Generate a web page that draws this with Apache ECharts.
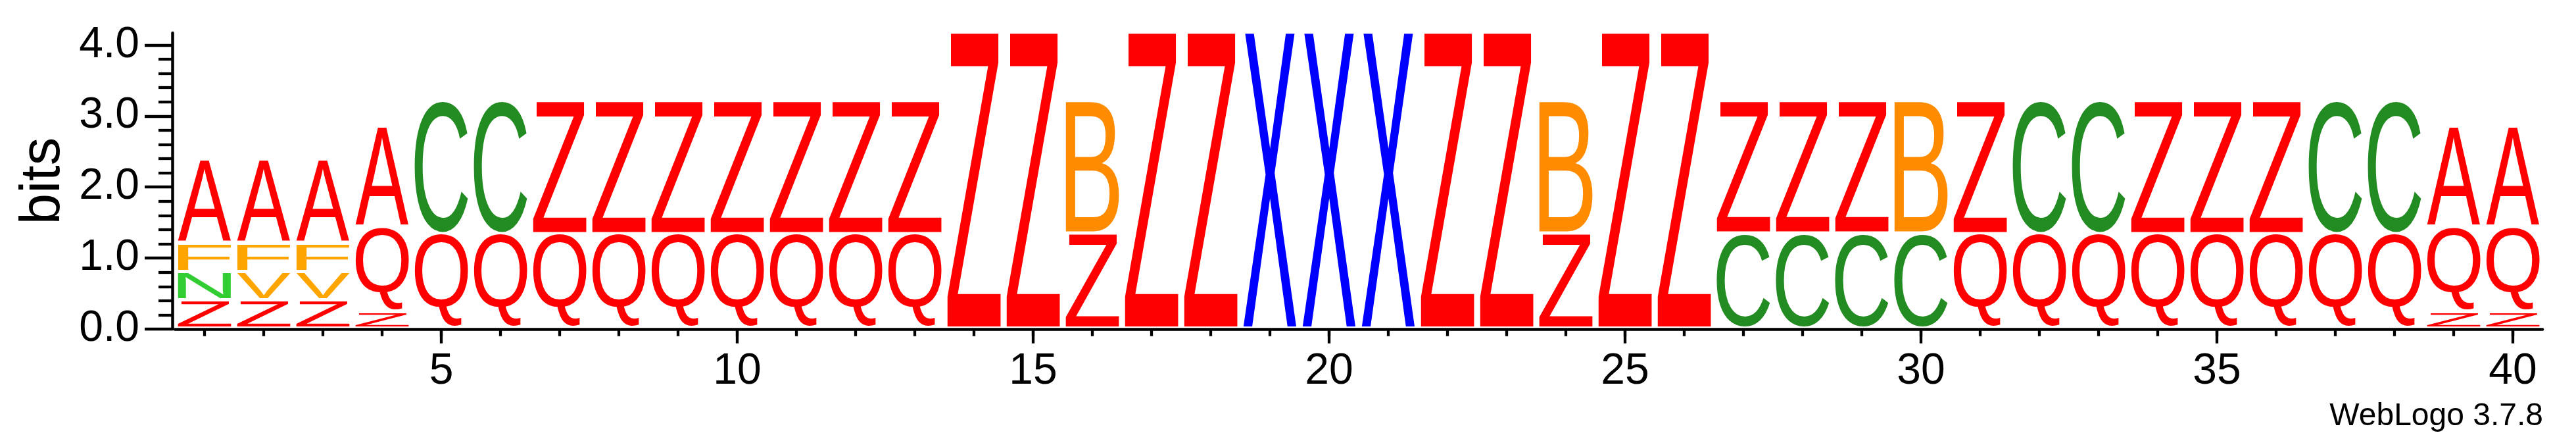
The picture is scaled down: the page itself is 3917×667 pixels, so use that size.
<!DOCTYPE html>
<html>
<head>
<meta charset="utf-8">
<script src="https://cdn.jsdelivr.net/npm/echarts@6/dist/echarts.min.js"></script>
<style>
html,body{margin:0;padding:0;background:#ffffff;}
#chart{width:3917px;height:667px;}
</style>
</head>
<body>
<div id="chart"></div>
<script>
// ---------------- data ----------------
const categories = ['1','2','3','4','5','6','7','8','9','10','11','12','13','14','15','16','17','18','19','20',
                    '21','22','23','24','25','26','27','28','29','30','31','32','33','34','35','36','37','38','39','40'];
// letters of each stack, bottom to top
const stackLetters = ['ZNFA','ZVFA','ZVFA','ZQA','QC','QC','QZ','QZ','QZ','QZ',
                      'QZ','QZ','QZ','Z','Z','ZB','Z','Z','X','X',
                      'X','Z','Z','ZB','Z','Z','CZ','CZ','CZ','CB',
                      'QZ','QC','QC','QZ','QZ','QZ','QC','QC','ZQA','ZQA'];
// bits of each letter, same order
const stackBits = [
  [0.40,0.40,0.40,1.18],[0.40,0.40,0.40,1.18],[0.40,0.40,0.40,1.18],[0.24,1.19,1.42],
  [1.33,1.88],[1.33,1.88],[1.33,1.88],[1.33,1.88],[1.33,1.88],[1.33,1.88],
  [1.33,1.88],[1.33,1.88],[1.33,1.88],[4.18],[4.18],[1.34,1.87],[4.18],[4.18],[4.18],[4.18],
  [4.18],[4.18],[4.18],[1.34,1.87],[4.18],[4.18],[1.34,1.87],[1.34,1.87],[1.34,1.87],[1.34,1.87],
  [1.33,1.88],[1.33,1.88],[1.33,1.88],[1.33,1.88],[1.33,1.88],[1.33,1.88],[1.33,1.88],[1.33,1.88],
  [0.24,1.19,1.42],[0.24,1.19,1.42]
];
const yMajorTicks = [0,1,2,3,4];
const yMinorTicks = [0.2,0.4,0.6,0.8,1.2,1.4,1.6,1.8,2.2,2.4,2.6,2.8,3.2,3.4,3.6,3.8];
const yMax = 4.17;
const letterColors = {A:'#FF0000',Q:'#FF0000',Z:'#FF0000',C:'#228B22',B:'#FF8C00',F:'#FFA500',V:'#FFA500',N:'#32CD32',X:'#0000FF'};

// ---------------- glyph metrics ----------------
const FONT_FAMILY = '"Liberation Sans", Arial, Helvetica, sans-serif';
const GLYPH_FONT = 'normal 200px ' + FONT_FAMILY;
const mctx = document.createElement('canvas').getContext('2d');
mctx.font = GLYPH_FONT;
mctx.textAlign = 'left';
mctx.textBaseline = 'middle';
const inkCache = {};
function ink(ch){
  if(!inkCache[ch]){
    const m = mctx.measureText(ch);
    inkCache[ch] = {l:-m.actualBoundingBoxLeft, r:m.actualBoundingBoxRight,
                    t:-m.actualBoundingBoxAscent, b:m.actualBoundingBoxDescent};
  }
  return inkCache[ch];
}

const LETTER_WIDTH_FRAC = 0.9;
const INSET = 2.5;
const BASE_LIFT = 1.5;

function renderItem(params, api){
  const i = params.dataIndex;
  const letters = stackLetters[i], bits = stackBits[i];
  const c = api.coord([i, 0]);
  const bw = api.size([1, 0])[0];
  const w = bw * LETTER_WIDTH_FRAC;
  const x0 = c[0] - w / 2;
  const children = [];
  let cum = 0;
  for(let k = 0; k < letters.length; k++){
    const ch = letters[k];
    const yb = api.coord([i, cum])[1] - BASE_LIFT;
    cum += bits[k];
    const yt = api.coord([i, cum])[1] - BASE_LIFT;
    const top = yt + INSET, bottom = yb - INSET;
    const h = bottom - top;
    if(h <= 0) continue;
    const g = ink(ch);
    const sx = w / (g.r - g.l), sy = h / (g.b - g.t);
    children.push({
      type:'text', x: x0 - g.l * sx, y: top - g.t * sy, scaleX: sx, scaleY: sy, silent: true,
      style:{text: ch, font: GLYPH_FONT, fill: letterColors[ch], align:'left', verticalAlign:'middle'}
    });
  }
  return {type:'group', children: children};
}

const chart = echarts.init(document.getElementById('chart'), null, {renderer:'canvas'});
const labelStyle = {color:'#000', fontSize:66, fontFamily:FONT_FAMILY};
const every5 = function(idx){ return (idx + 1) % 5 === 0; };

chart.setOption({
  backgroundColor:'#ffffff',
  animation:false,
  grid:{left:266, top:50, width:3600, height:450, containLabel:false},
  xAxis:[
    {type:'category', data:categories, boundaryGap:true, position:'bottom',
     axisLine:{show:true, onZero:false, lineStyle:{color:'#000', width:4.5}},
     axisTick:{show:true, alignWithLabel:true, interval:0, length:10.7, lineStyle:{color:'#000', width:4.3}},
     axisLabel:{show:false}, splitLine:{show:false}},
    {type:'category', data:categories, boundaryGap:true, position:'bottom',
     axisLine:{show:false, onZero:false},
     axisTick:{show:true, alignWithLabel:true, interval:every5, length:21.7, lineStyle:{color:'#000', width:4.3}},
     axisLabel:Object.assign({show:true, interval:every5, margin:32}, labelStyle), splitLine:{show:false}}
  ],
  yAxis:[
    {type:'value', min:0, max:yMax, position:'left', offset:4,
     axisLine:{show:true, onZero:false, lineStyle:{color:'#000', width:4.5}},
     axisTick:{show:true, length:42, customValues:yMajorTicks, lineStyle:{color:'#000', width:4.3}},
     axisLabel:Object.assign({show:true, customValues:yMajorTicks, margin:50,
       formatter:function(v){ return Number(v).toFixed(1); }}, labelStyle),
     splitLine:{show:false},
     name:'bits', nameLocation:'middle', nameGap:142,
     nameTextStyle:{color:'#000', fontSize:85, fontFamily:FONT_FAMILY}},
    {type:'value', min:0, max:yMax, position:'left', offset:4,
     axisLine:{show:false, onZero:false},
     axisTick:{show:true, length:21, customValues:yMinorTicks, lineStyle:{color:'#000', width:4.3}},
     axisLabel:{show:false}, splitLine:{show:false}}
  ],
  graphic:[
    {type:'text', right:50, top:609, silent:true,
     style:{text:'WebLogo 3.7.8', font:'normal 48px ' + FONT_FAMILY, fill:'#000'}}
  ],
  series:[{
    type:'custom', xAxisIndex:0, yAxisIndex:0, silent:true, clip:false,
    renderItem: renderItem,
    encode:{x:0, y:1},
    data: categories.map(function(c, i){ return [i, stackBits[i].reduce(function(a, b){ return a + b; }, 0)]; })
  }]
});
</script>
</body>
</html>
